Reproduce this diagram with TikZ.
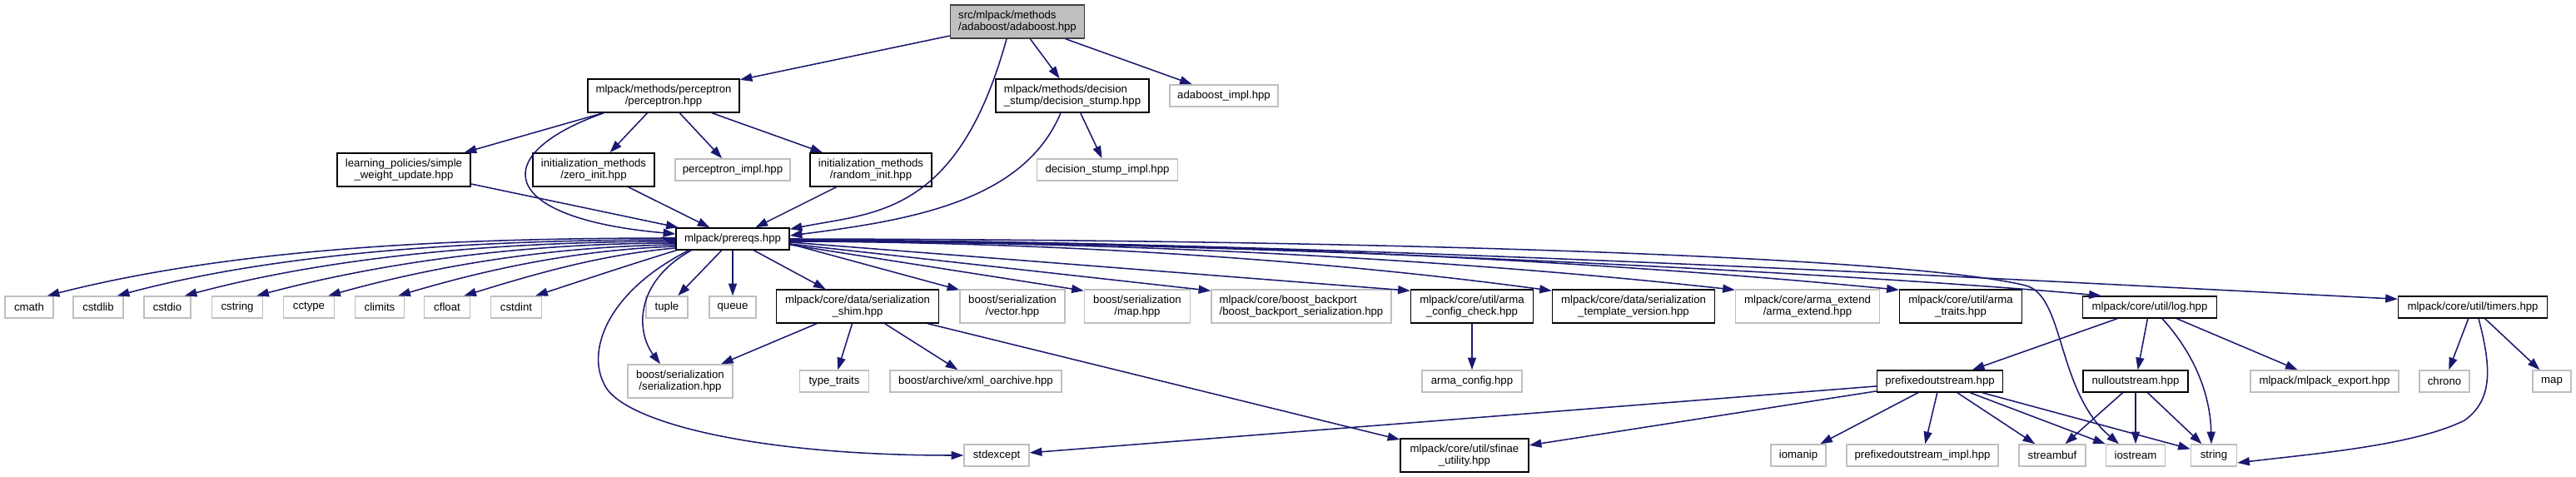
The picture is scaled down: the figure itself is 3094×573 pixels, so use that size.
\documentclass[tikz,border=0pt]{standalone}
\usepackage{fontspec}
\setmainfont{Liberation Sans}
\usetikzlibrary{arrows.meta,calc}
\definecolor{edgeblue}{HTML}{191970}
\definecolor{ugray}{HTML}{BFBFBF}
\definecolor{mborder}{HTML}{404040}
\begin{document}
\begin{tikzpicture}[x=0.75pt,y=-0.75pt,
  box/.style={draw, rectangle, inner sep=2pt, font=\fontsize{9.9}{11}\selectfont, line width=1.1pt, align=center, minimum height=19.5pt},
  dn/.style={box, draw=black, fill=white},
  un/.style={box, draw=ugray, fill=white},
  mn/.style={box, draw=mborder, fill=ugray},
  two/.style={minimum height=30pt},
  bw/.style={minimum width=#1*0.75pt},
  e/.style={draw=edgeblue, line width=1.15pt, -{Triangle[length=11pt,width=7.5pt]}}]
\useasboundingbox (0,0) rectangle (3094,573);

% row 0
\node[mn, two, bw=161, align=left] (main) at (1222,26) {src/mlpack/methods\\/adaboost/adaboost.hpp};
% row 1
\node[dn, two, bw=182] (perceptron) at (797,115) {mlpack/methods/perceptron\\/perceptron.hpp};
\node[dn, two, bw=184, align=left] (dstump) at (1288,115) {mlpack/methods/decision\\\_stump/decision\_stump.hpp};
\node[un, bw=130] (aimpl) at (1470,115) {adaboost\_impl.hpp};
% row 2
\node[dn, two, bw=160] (swu) at (485,204) {learning\_policies/simple\\\_weight\_update.hpp};
\node[dn, two, bw=146] (zero) at (713,204) {initialization\_methods\\/zero\_init.hpp};
\node[un, bw=138] (pimpl) at (880,204) {perceptron\_impl.hpp};
\node[dn, two, bw=146] (rand) at (1046,204) {initialization\_methods\\/random\_init.hpp};
\node[un, bw=169] (dsimpl) at (1330,204) {decision\_stump\_impl.hpp};
% row 3
\node[dn, bw=136] (prereqs) at (880,287) {mlpack/prereqs.hpp};
% row 4
\node[un, bw=58] (cmath) at (35,369) {cmath};
\node[un, bw=60] (cstdlib) at (118,369) {cstdlib};
\node[un, bw=56] (cstdio) at (201,369) {cstdio};
\node[un, bw=61] (cstring) at (285,369) {cstring};
\node[un, bw=61] (cctype) at (371,369) {cctype};
\node[un, bw=59] (climits) at (456,369) {climits};
\node[un, bw=55] (cfloat) at (537,369) {cfloat};
\node[un, bw=61] (cstdint) at (620,369) {cstdint};
\node[un, bw=50] (tuple) at (801,369) {tuple};
\node[un, bw=56] (queue) at (880,369) {queue};
\node[dn, two, bw=195] (shim) at (1030,368) {mlpack/core/data/serialization\\\_shim.hpp};
\node[un, two, bw=126] (vec) at (1216,368) {boost/serialization\\/vector.hpp};
\node[un, two, bw=127] (bmap) at (1366,368) {boost/serialization\\/map.hpp};
\node[un, two, bw=216, align=left] (backport) at (1563,368) {mlpack/core/boost\_backport\\/boost\_backport\_serialization.hpp};
\node[dn, two, bw=147] (acc) at (1768,368) {mlpack/core/util/arma\\\_config\_check.hpp};
\node[dn, two, bw=195] (tver) at (1962,368) {mlpack/core/data/serialization\\\_template\_version.hpp};
\node[un, two, bw=173] (aext) at (2171,368) {mlpack/core/arma\_extend\\/arma\_extend.hpp};
\node[dn, two, bw=147] (atraits) at (2355,368) {mlpack/core/util/arma\\\_traits.hpp};
\node[dn, bw=161] (log) at (2582,369) {mlpack/core/util/log.hpp};
\node[dn, bw=179] (timers) at (2970,369) {mlpack/core/util/timers.hpp};
% row 5
\node[un, two, bw=126] (bser) at (817,458) {boost/serialization\\/serialization.hpp};
\node[un, bw=83] (ttraits) at (1002,458) {type\_traits};
\node[un, bw=206] (xml) at (1172,458) {boost/archive/xml\_oarchive.hpp};
\node[un, bw=120] (acfg) at (1768,458) {arma\_config.hpp};
\node[dn, bw=151] (pos) at (2330,458) {prefixedoutstream.hpp};
\node[dn, bw=126] (nos) at (2565,458) {nulloutstream.hpp};
\node[un, bw=178] (mexp) at (2792,458) {mlpack/mlpack\_export.hpp};
\node[un, bw=60] (chrono) at (2936,458) {chrono};
\node[un, bw=46] (map) at (3065,458) {map};
% row 6
\node[un, bw=78] (stdexc) at (1197,547) {stdexcept};
\node[dn, two, bw=154] (sfinae) at (1759,547) {mlpack/core/util/sfinae\\\_utility.hpp};
\node[un, bw=66] (iomanip) at (2160,547) {iomanip};
\node[un, bw=182] (posimpl) at (2309,547) {prefixedoutstream\_impl.hpp};
\node[un, bw=80] (streambuf) at (2465,547) {streambuf};
\node[un, bw=71] (iostream) at (2565,547) {iostream};
\node[un, bw=55] (string) at (2659,547) {string};

% edges from main
\draw[e] (main) -- (perceptron);
\draw[e] ($(main.south)+(-13,0)$) .. controls (1150,260) and (1050,255) .. ($(prereqs.north east)+(0,2)$);
\draw[e] (main) -- (dstump);
\draw[e] (main) -- (aimpl);
% perceptron
\draw[e] (perceptron) -- (swu);
\draw[e] (perceptron) -- (zero);
\draw[e] (perceptron) -- (pimpl);
\draw[e] (perceptron) -- (rand);
\draw[e] ($(perceptron.south west)+(20,0)$) .. controls (585,185) and (595,262) .. ($(prereqs.west)+(0,-6)$);
\draw[e] (swu) -- (prereqs);
\draw[e] (zero) -- (prereqs);
\draw[e] (rand) -- (prereqs);
% decision stump
\draw[e] ($(dstump.south)+(-14,0)$) .. controls (1230,240) and (1100,264) .. ($(prereqs.east)+(0,-4)$);
\draw[e] (dstump) -- (dsimpl);
% prereqs left fan
\draw[e] ($(prereqs.west)+(0,-1)$) .. controls (560,286) and (290,296) .. ($(cmath.north east)+(-8,0)$);
\draw[e] ($(prereqs.west)+(0,1)$) .. controls (580,288) and (340,302) .. ($(cstdlib.north east)+(-8,0)$);
\draw[e] ($(prereqs.west)+(0,3)$) .. controls (600,290) and (400,308) .. ($(cstdio.north east)+(-8,0)$);
\draw[e] ($(prereqs.west)+(0,5)$) .. controls (630,292) and (460,315) .. ($(cstring.north east)+(-8,0)$);
\draw[e] ($(prereqs.west)+(0,7)$) .. controls (660,296) and (520,320) .. ($(cctype.north east)+(-8,0)$);
\draw[e] ($(prereqs.west)+(0,9)$) .. controls (690,300) and (580,325) .. ($(climits.north east)+(-8,0)$);
\draw[e] ($(prereqs.west)+(0,11)$) .. controls (720,306) and (640,330) .. ($(cfloat.north east)+(-8,0)$);
\draw[e] ($(prereqs.south west)+(1,0)$) .. controls (756,318) and (699,337) .. ($(cstdint.north east)+(-8,0)$);
% prereqs down
\draw[e] (prereqs) -- (tuple);
\draw[e] (prereqs) -- (queue);
\draw[e] (prereqs) -- (shim);
\draw[e] ($(prereqs.south west)+(19,0)$) .. controls (760,340) and (765,400) .. ($(bser.north)+(-24,0)$);
\draw[e] ($(prereqs.south west)+(16,0)$) .. controls (730,350) and (705,420) .. (725,460) .. controls (742,505) and (900,547) .. (stdexc.west);
% prereqs right fan
\draw[e] ($(prereqs.east)+(0,6)$) -- ($(vec.north west)+(0,1)$);
\draw[e] ($(prereqs.east)+(0,7)$) -- ($(bmap.north west)+(0,2)$);
\draw[e] ($(prereqs.east)+(0,6)$) -- ($(backport.north west)+(0,2)$);
\draw[e] ($(prereqs.east)+(0,4)$) -- ($(acc.north west)+(0,2)$);
\draw[e] ($(prereqs.east)+(0,3)$) .. controls (1315,291) and (1635,318) .. ($(tver.north west)+(0,2)$);
\draw[e] ($(prereqs.east)+(0,3)$) .. controls (1402,290) and (1800,317) .. ($(aext.north west)+(0,1)$);
\draw[e] ($(prereqs.east)+(0,2)$) .. controls (1481,289) and (1948,316) .. ($(atraits.north west)+(0,1)$);
\draw[e] ($(prereqs.east)+(0,2)$) .. controls (1500,290) and (2250,330) .. ($(log.north west)+(23,0)$);
\draw[e] ($(prereqs.east)+(0,1)$) .. controls (1600,290) and (2400,335) .. ($(timers.north west)+(0,4)$);
\draw[e] (prereqs.east) .. controls (1700,288) and (2300,310) .. (2433,343) .. controls (2480,355) and (2470,470) .. ($(iostream.north)+(-20,0)$);
% serialization shim
\draw[e] (shim) -- (bser);
\draw[e] (shim) -- (ttraits);
\draw[e] (shim) -- (xml);
\draw[e] (shim) -- (sfinae);
% arma config
\draw[e] (acc) -- (acfg);
% log
\draw[e] (log) -- (pos);
\draw[e] (log) -- (nos);
\draw[e] ($(log.south)+(15,0)$) .. controls (2640,430) and (2655,480) .. ($(string.north)+(-3,0)$);
\draw[e] (log) -- (mexp);
% timers
\draw[e] (timers) -- (chrono);
\draw[e] (timers) -- (map);
\draw[e] ($(timers.south)+(7,0)$) .. controls (2992,440) and (2995,480) .. (2960,505) .. controls (2900,535) and (2780,545) .. ($(string.east)+(0,9)$);
% prefixedoutstream
\draw[e] (pos) -- (stdexc);
\draw[e] (pos) -- (sfinae);
\draw[e] (pos) -- (iomanip);
\draw[e] (pos) -- (posimpl);
\draw[e] (pos) -- (streambuf);
\draw[e] (pos) -- (iostream);
\draw[e] (pos) -- (string);
% nulloutstream
\draw[e] (nos) -- (streambuf);
\draw[e] (nos) -- (iostream);
\draw[e] (nos) -- (string);
\end{tikzpicture}
\end{document}
